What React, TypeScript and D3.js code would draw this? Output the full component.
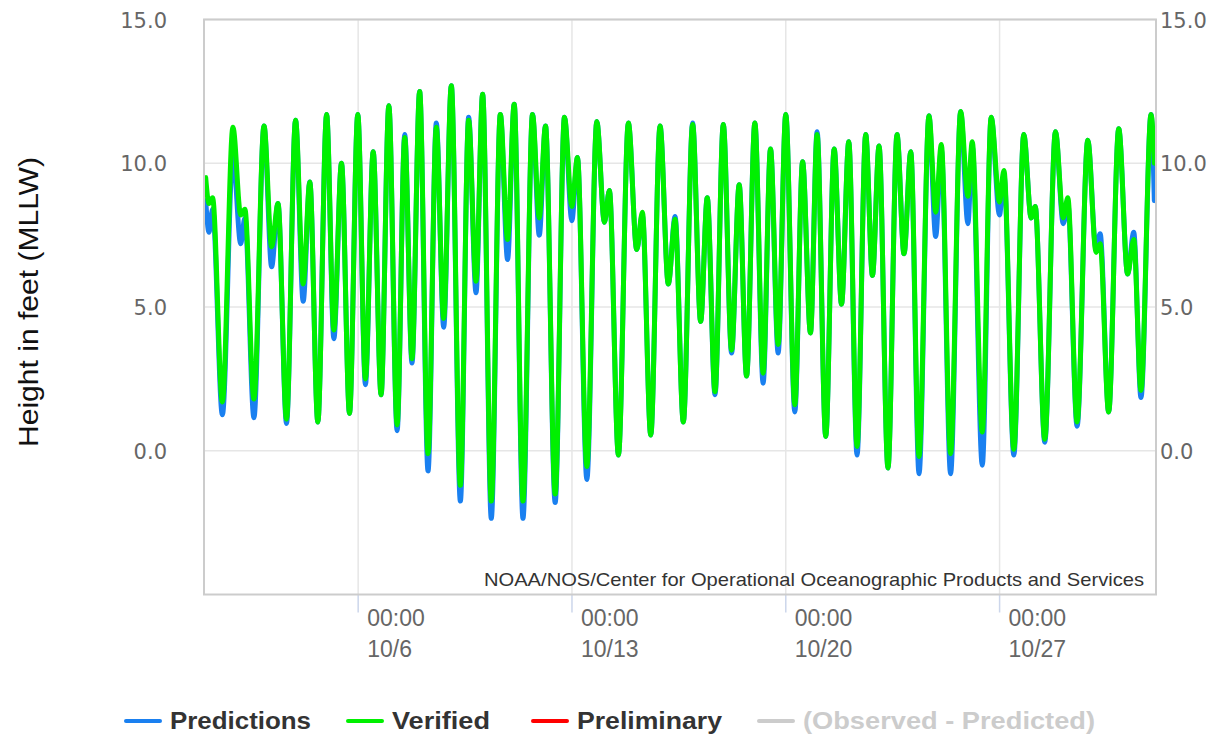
import React, { useRef, useEffect } from "react";
import * as d3 from "d3";

const WIDTH = 1220;
const HEIGHT = 737;
const PLOT = { left: 204, right: 1156, top: 19.5, bottom: 594.5 };

// hours after 10/1 00:00 of each high / low water
const tideHours = [
  0.2, 2.8, 5.6, 13.3, 21.6, 27.7, 31.0, 38.1, 46.0, 52.0, 57.0, 63.7, 70.8, 76.8, 82.0, 88.3,
  95.2, 100.9, 106.9, 113.2, 119.7, 125.7, 131.8, 138.0, 144.1, 150.6, 156.6, 162.3, 168.3,
  174.9, 181.4, 187.2, 193.2, 200.3, 206.8, 212.6, 217.8, 224.6, 231.7, 237.4, 242.6, 249.5,
  257.0, 262.3, 267.2, 274.8, 282.1, 287.9, 292.3, 299.7, 307.5, 313.5, 317.4, 324.5, 332.3,
  338.9, 343.3, 349.9, 357.2, 363.7, 369.0, 375.5, 382.8, 389.1, 394.3, 400.4, 406.9, 413.4,
  419.4, 425.2, 431.7, 438.2, 444.0, 450.0, 456.0, 463.1, 469.2, 475.4, 480.6, 487.4, 494.0,
  499.8, 505.5, 512.0, 518.8, 524.1, 529.3, 536.3, 543.4, 548.9, 554.2, 560.7, 568.5, 573.8,
  578.2, 585.5, 593.4, 599.1, 602.5, 610.4, 617.4, 623.9, 627.4, 635.2, 643.0, 648.8, 652.0,
  659.5, 667.9, 674.0, 677.6, 684.9, 693.3, 699.8, 703.0, 709.7, 717.6, 724.6, 729.4, 735.1,
  743.0, 745.6,
];

const predictedFt = [
  8.7, 7.6, 8.4, 1.25, 10.3, 7.2, 8.1, 1.15, 11.3, 6.4, 8.6, 0.95, 11.5, 5.2, 9.35, 1.0,
  11.7, 3.9, 10.0, 1.3, 11.7, 2.3, 10.4, 1.95, 12.0, 0.7, 11.0, 3.05, 12.5,
  -0.7, 11.4, 4.3, 12.7, -1.75, 11.6, 5.5, 12.4, -2.35, 11.7, 6.65, 12.05, -2.35,
  11.7, 7.5, 11.3, -1.8, 11.6, 8.0, 10.2, -1.0, 11.45, 7.95, 9.05, -0.15, 11.4,
  7.0, 8.2, 0.55, 11.3, 5.8, 8.15, 1.0, 11.4, 4.5, 8.8, 1.95, 11.35, 3.4,
  9.25, 2.6, 11.4, 2.35, 10.5, 3.4, 11.7, 1.35, 10.05, 4.1, 11.1, 0.5, 10.5,
  5.1, 10.75, -0.15, 11.0, 6.1, 10.6, -0.6, 11.0, 6.85, 10.4, -0.8, 11.65, 7.45,
  10.5, -0.8, 11.8, 7.9, 10.6, -0.5, 11.6, 8.2, 9.6, -0.15, 11.0, 8.1, 8.5,
  0.3, 11.1, 7.9, 8.6, 0.85, 10.8, 7.0, 7.55, 1.35, 11.2, 6.15, 7.6, 1.85,
  11.7, 8.7,
];

const verifiedFt = [
  9.5, 8.6, 8.8, 1.7, 11.25, 8.2, 8.4, 1.8, 11.3, 7.1, 8.6, 1.1, 11.5, 5.8, 9.35, 1.0,
  11.7, 4.2, 10.0, 1.3, 11.7, 2.5, 10.4, 1.95, 12.0, 0.9, 10.9, 3.2, 12.5,
  -0.1, 11.25, 4.6, 12.7, -1.2, 11.5, 5.9, 12.4, -1.75, 11.7, 7.35, 12.05, -1.75,
  11.7, 8.1, 11.3, -1.5, 11.6, 8.5, 10.2, -0.55, 11.45, 7.95, 9.05, -0.15, 11.4,
  7.0, 8.3, 0.55, 11.3, 5.8, 8.05, 1.0, 11.35, 4.5, 8.8, 2.05, 11.35, 3.5,
  9.25, 2.6, 11.4, 2.7, 10.5, 3.7, 11.7, 1.6, 10.05, 4.1, 11.0, 0.5, 10.5,
  5.1, 10.75, 0.15, 11.0, 6.1, 10.6, -0.6, 11.0, 6.85, 10.4, -0.2, 11.65, 8.3,
  10.65, -0.1, 11.8, 8.85, 10.75, 0.65, 11.6, 8.65, 9.75, 0.05, 11.0, 8.1, 8.5,
  0.4, 11.1, 8.1, 8.8, 1.0, 10.8, 6.9, 7.2, 1.35, 11.2, 6.15, 7.35, 2.1,
  11.7, 10.0,
];

const yTicks = [0, 5, 10, 15];

const legendItems = [
  { name: "Predictions", color: "#1a80f0", text: "#333333", lineX: 126, textX: 170, textW: 141 },
  { name: "Verified", color: "#00f000", text: "#333333", lineX: 348, textX: 392, textW: 98 },
  { name: "Preliminary", color: "#ff0000", text: "#333333", lineX: 533, textX: 577, textW: 145 },
  { name: "(Observed - Predicted)", color: "#cccccc", text: "#cccccc", lineX: 759, textX: 803, textW: 292 },
];

const START = new Date(2019, 9, 1, 0, 0);
const toDate = (h) => new Date(START.getTime() + h * 3600 * 1000);

export default function App() {
  const ref = useRef(null);

  useEffect(() => {
    const svg = d3.select(ref.current);
    svg.selectAll("*").remove();

    const x = d3
      .scaleTime()
      .domain([toDate(-1.14), toDate(746.9)])
      .range([PLOT.left, PLOT.right]);
    const y = d3.scaleLinear().domain([-5, 15]).range([PLOT.bottom, PLOT.top]);

    svg.append("rect").attr("width", WIDTH).attr("height", HEIGHT).attr("fill", "#fff");

    // horizontal grid
    svg
      .selectAll(".hgrid")
      .data(yTicks)
      .join("line")
      .attr("x1", PLOT.left)
      .attr("x2", PLOT.right)
      .attr("y1", (d) => y(d))
      .attr("y2", (d) => y(d))
      .attr("stroke", "#e6e6e6")
      .attr("stroke-width", 1.5);

    // weekly x ticks / grid
    const xTicks = x.ticks(d3.timeWeek.every(1));
    svg
      .selectAll(".vgrid")
      .data(xTicks)
      .join("line")
      .attr("x1", (d) => x(d))
      .attr("x2", (d) => x(d))
      .attr("y1", PLOT.top)
      .attr("y2", PLOT.bottom)
      .attr("stroke", "#e6e6e6")
      .attr("stroke-width", 1.5);
    svg
      .selectAll(".vtick")
      .data(xTicks)
      .join("line")
      .attr("x1", (d) => x(d))
      .attr("x2", (d) => x(d))
      .attr("y1", PLOT.bottom)
      .attr("y2", PLOT.bottom + 18)
      .attr("stroke", "#ccd6eb")
      .attr("stroke-width", 1.5);

    const fmtTime = d3.timeFormat("%H:%M");
    const fmtDay = d3.timeFormat("%-m/%-d");
    const xl = svg
      .selectAll(".xlab")
      .data(xTicks)
      .join("text")
      .attr("x", (d) => x(d) + 9)
      .attr("font-family", "Liberation Sans, Arial, sans-serif")
      .attr("font-size", 23)
      .attr("fill", "#666");
    xl.append("tspan").attr("x", (d) => x(d) + 9).attr("y", 626).text((d) => fmtTime(d));
    xl.append("tspan").attr("x", (d) => x(d) + 9).attr("y", 657).text((d) => fmtDay(d));

    // tide lines
    const rows = tideHours.map((h, i) => ({ t: toDate(h), p: predictedFt[i], v: verifiedFt[i] }));
    const lineP = d3.line().x((d) => x(d.t)).y((d) => y(d.p)).curve(d3.curveMonotoneX);
    const lineV = d3.line().x((d) => x(d.t)).y((d) => y(d.v)).curve(d3.curveMonotoneX);

    const g = svg.append("g");
    g.append("path")
      .datum(rows)
      .attr("d", lineP)
      .attr("fill", "none")
      .attr("stroke", legendItems[0].color)
      .attr("stroke-width", 5)
      .attr("stroke-linejoin", "round")
      .attr("stroke-linecap", "round");
    g.append("path")
      .datum(rows)
      .attr("d", lineV)
      .attr("fill", "none")
      .attr("stroke", legendItems[1].color)
      .attr("stroke-width", 5)
      .attr("stroke-linejoin", "round")
      .attr("stroke-linecap", "round");

    // plot border
    svg
      .append("rect")
      .attr("x", PLOT.left)
      .attr("y", PLOT.top)
      .attr("width", PLOT.right - PLOT.left)
      .attr("height", PLOT.bottom - PLOT.top)
      .attr("fill", "none")
      .attr("stroke", "#cccccc")
      .attr("stroke-width", 2);

    // y labels, both sides
    const fmtY = d3.format(".1f");
    svg
      .selectAll(".ylabL")
      .data(yTicks)
      .join("text")
      .attr("x", 167)
      .attr("y", (d) => y(d) + 8)
      .attr("text-anchor", "end")
      .attr("font-family", "DejaVu Sans, Verdana, sans-serif")
      .attr("font-size", 21)
      .attr("fill", "#666")
      .text((d) => fmtY(d));
    svg
      .selectAll(".ylabR")
      .data(yTicks)
      .join("text")
      .attr("x", 1160)
      .attr("y", (d) => y(d) + 8)
      .attr("font-family", "DejaVu Sans, Verdana, sans-serif")
      .attr("font-size", 21)
      .attr("fill", "#666")
      .text((d) => fmtY(d));

    svg
      .append("text")
      .attr("transform", "translate(38,302) rotate(-90)")
      .attr("text-anchor", "middle")
      .attr("font-family", "Liberation Sans, Arial, sans-serif")
      .attr("font-size", 28)
      .attr("fill", "#111")
      .attr("textLength", 290)
      .attr("lengthAdjust", "spacingAndGlyphs")
      .text("Height in feet (MLLW)");

    svg
      .append("text")
      .attr("x", 1144)
      .attr("y", 586)
      .attr("text-anchor", "end")
      .attr("font-family", "Liberation Sans, Arial, sans-serif")
      .attr("font-size", 19)
      .attr("fill", "#333")
      .attr("textLength", 660)
      .attr("lengthAdjust", "spacingAndGlyphs")
      .text("NOAA/NOS/Center for Operational Oceanographic Products and Services");

    // legend
    const lg = svg.append("g");
    legendItems.forEach((it) => {
      lg.append("line")
        .attr("x1", it.lineX)
        .attr("x2", it.lineX + 34)
        .attr("y1", 721)
        .attr("y2", 721)
        .attr("stroke", it.color)
        .attr("stroke-width", 4)
        .attr("stroke-linecap", "round");
      lg.append("text")
        .attr("x", it.textX)
        .attr("y", 729)
        .attr("font-family", "Liberation Sans, Arial, sans-serif")
        .attr("font-weight", "bold")
        .attr("font-size", 23)
        .attr("fill", it.text)
        .attr("textLength", it.textW)
        .attr("lengthAdjust", "spacingAndGlyphs")
        .text(it.name);
    });
  }, []);

  return (
    <svg
      ref={ref}
      width={WIDTH}
      height={HEIGHT}
      style={{ position: "absolute", left: 0, top: 0 }}
    />
  );
}
